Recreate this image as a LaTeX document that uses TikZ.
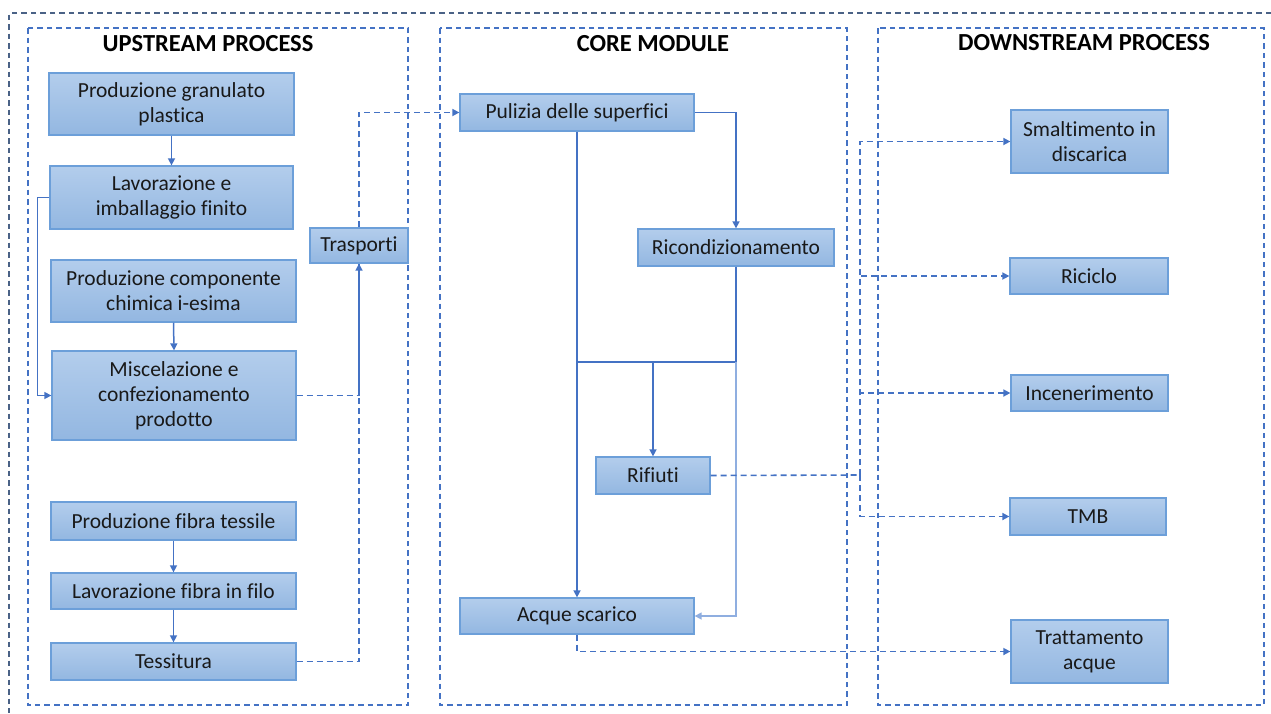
\documentclass[tikz,border=0pt]{standalone}
\usepackage{fontspec}
\setmainfont{Carlito}[Ligatures={NoCommon}]
\usetikzlibrary{arrows.meta}
\definecolor{boxtop}{HTML}{B3CDEC}
\definecolor{boxbot}{HTML}{93B7E1}
\definecolor{boxline}{HTML}{6C9FD9}
\definecolor{linec}{HTML}{4472C4}
\definecolor{linelight}{HTML}{8FAEE0}
\definecolor{outerc}{HTML}{4A6286}
\begin{document}
\begin{tikzpicture}[x=1pt,y=-1pt,
  box/.style={draw=boxline, line width=1.3pt, top color=boxtop, bottom color=boxbot,
    align=center, inner sep=2pt, text=black!90, font=\fontsize{21.5}{25}\selectfont},
  head/.style={font=\fontsize{24.5}{28}\selectfont\bfseries},
  frame/.style={draw=linec, line width=1.3pt, dash pattern=on 5.5pt off 4pt},
  outer/.style={draw=outerc, line width=1.3pt, dash pattern=on 5.5pt off 4pt},
  sline/.style={draw=linec, line width=1.5pt},
  lline/.style={draw=linelight, line width=1.5pt},
  conn/.style={sline, -{Triangle[length=7pt,width=7pt]}},
  dline/.style={draw=linec, line width=1.6pt, dash pattern=on 6pt off 4pt},
  dconn/.style={dline, -{Triangle[length=7pt,width=7pt]}}
]
\useasboundingbox (0,0) rectangle (1271,713);
\fill[white] (0,0) rectangle (1271,713);
% frames
\draw[outer] (1271,13) -- (9,13) -- (9,713);
\draw[frame] (28,28) rectangle (408,705);
\draw[frame] (440,28) rectangle (847,705);
\draw[frame] (878,28) rectangle (1264,705);
% headers
\node[head] (h1) at (208,44) {UPSTREAM PROCESS};
\node[head] (h2) at (653,44) {CORE MODULE};
\node[head] (h3) at (1084,43) {DOWNSTREAM PROCESS};
% upstream nodes
\node[box, minimum width=245pt, minimum height=62pt] (pg) at (171.5,104) {Produzione granulato\\plastica};
\node[box, minimum width=243pt, minimum height=63pt] (li) at (171.5,197.5) {Lavorazione e\\imballaggio finito};
\node[box, minimum width=98pt, minimum height=35pt] (tr) at (359,245.5) {Trasporti};
\node[box, minimum width=245pt, minimum height=62pt] (pc) at (173.5,291) {Produzione componente\\chimica i-esima};
\node[box, minimum width=244pt, minimum height=89pt] (mc) at (174,395.5) {Miscelazione e\\confezionamento\\prodotto};
\node[box, minimum width=245pt, minimum height=38pt] (pf) at (173.5,521) {Produzione fibra tessile};
\node[box, minimum width=245pt, minimum height=36pt] (lf) at (173.5,591) {Lavorazione fibra in filo};
\node[box, minimum width=245pt, minimum height=37pt] (te) at (173.5,661.5) {Tessitura};
% core nodes
\node[box, minimum width=234pt, minimum height=37pt] (pu) at (577,112.5) {Pulizia delle superfici};
\node[box, minimum width=196pt, minimum height=37pt] (ri) at (736,247.5) {Ricondizionamento};
\node[box, minimum width=114pt, minimum height=37pt] (rf) at (653,475.5) {Rifiuti};
\node[box, minimum width=234pt, minimum height=36pt] (ac) at (577,616) {Acque scarico};
% downstream nodes
\node[box, minimum width=157pt, minimum height=63pt] (sm) at (1089.5,141.5) {Smaltimento in\\discarica};
\node[box, minimum width=158pt, minimum height=36pt] (rc) at (1089,276) {Riciclo};
\node[box, minimum width=157pt, minimum height=36pt] (in) at (1089.5,393) {Incenerimento};
\node[box, minimum width=156pt, minimum height=37pt] (tm) at (1088,516.5) {TMB};
\node[box, minimum width=157pt, minimum height=63pt] (ta) at (1089.5,651.5) {Trattamento\\acque};
% coordinates
\coordinate (jn) at (653,362);
\coordinate (dj) at (860,475);
% upstream connectors
\draw[conn] (pg.south) -- (li.north);
\draw[conn] (li.west) -- ++(-12,0) |- (mc.west);
\draw[conn] (pc.south) -- (mc.north);
\draw[conn] (pf.south) -- (lf.north);
\draw[conn] (lf.south) -- (te.north);
\draw[dconn] (mc.east) -| (tr.south);
\draw[dline] (te.east) -| (tr.south);
\draw[dconn] (tr.north) |- (pu.west);
% core connectors
\draw[conn] (pu.east) -| (ri.north);
\draw[conn] (pu.south) -- (ac.north);
\draw[sline] (ri.south) |- (pu.south |- jn);
\draw[conn] (jn) -- (rf.north);
\draw[lline, -{Triangle[length=7pt,width=7pt]}] (ri.south |- jn) |- (ac.east);
% downstream connectors
\draw[dline] (rf.east) -- (dj);
\draw[dconn] (dj) |- (sm.west);
\draw[dconn] (dj) |- (rc.west);
\draw[dconn] (dj) |- (in.west);
\draw[dconn] (dj) |- (tm.west);
\draw[dconn] (ac.south) |- (ta.west);
\end{tikzpicture}
\end{document}
